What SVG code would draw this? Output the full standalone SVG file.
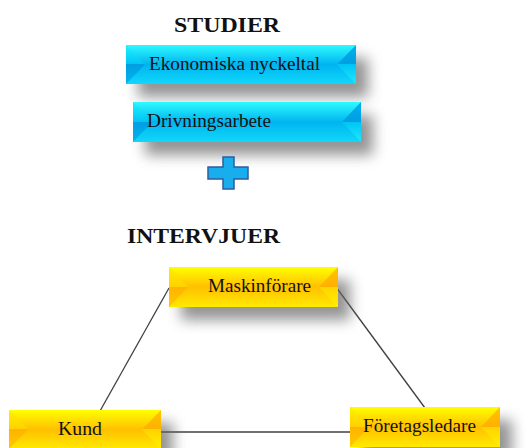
<svg xmlns="http://www.w3.org/2000/svg" width="531" height="448" viewBox="0 0 531 448">
<defs>
<linearGradient id="gc" x1="0" y1="0" x2="0" y2="1">
<stop offset="0" stop-color="#2FFAFF"/><stop offset="0.5" stop-color="#00B4F0"/><stop offset="1" stop-color="#10D8FA"/>
</linearGradient>
<linearGradient id="gcl" x1="0" y1="0" x2="0" y2="1">
<stop offset="0" stop-color="#20F0FF"/><stop offset="0.5" stop-color="#00C4F4"/><stop offset="0.5" stop-color="#009EE2"/><stop offset="1" stop-color="#00B6EE"/>
</linearGradient>
<linearGradient id="gcr" x1="0" y1="0" x2="0" y2="1">
<stop offset="0" stop-color="#00B0EC"/><stop offset="0.5" stop-color="#009EE2"/><stop offset="0.5" stop-color="#00C4F4"/><stop offset="1" stop-color="#20E8FF"/>
</linearGradient>
<linearGradient id="gy" x1="0" y1="0" x2="0" y2="1">
<stop offset="0" stop-color="#FFFF00"/><stop offset="0.5" stop-color="#FFC000"/><stop offset="1" stop-color="#FFEA00"/>
</linearGradient>
<linearGradient id="gyl" x1="0" y1="0" x2="0" y2="1">
<stop offset="0" stop-color="#FFF000"/><stop offset="0.5" stop-color="#FFD000"/><stop offset="0.5" stop-color="#FFB400"/><stop offset="1" stop-color="#FFC800"/>
</linearGradient>
<linearGradient id="gyr" x1="0" y1="0" x2="0" y2="1">
<stop offset="0" stop-color="#FFC400"/><stop offset="0.5" stop-color="#FFB000"/><stop offset="0.5" stop-color="#FFD400"/><stop offset="1" stop-color="#FFF000"/>
</linearGradient>
<filter id="sh" x="-30%" y="-80%" width="160%" height="260%">
<feGaussianBlur stdDeviation="7"/>
</filter>
</defs>
<style>
.sh{fill:#666;opacity:0.7;filter:url(#sh)}
.c{fill:url(#gc)}
.cl{fill:url(#gcl)}
.cr{fill:url(#gcr)}
.y{fill:url(#gy)}
.yl{fill:url(#gyl)}
.yr{fill:url(#gyr)}
.t{font-family:"Liberation Serif",serif;font-size:18.5px;fill:#111}
.h{font-family:"Liberation Serif",serif;font-size:22px;font-weight:bold;fill:#111}
.ln{stroke:#404040;stroke-width:1.3;fill:none}
</style>

<g id="connectors">
<line class="ln" x1="169" y1="288" x2="100" y2="411"/>
<line class="ln" x1="336" y1="287" x2="425" y2="408"/>
<line class="ln" x1="161" y1="432" x2="350" y2="432"/>
</g>

<g id="title-studier"><text class="h" x="174" y="32" textLength="106" lengthAdjust="spacingAndGlyphs">STUDIER</text></g>

<g id="node-ekonomiska">
<rect class="sh" x="138" y="58" width="230" height="39"/>
<rect class="c" x="126" y="45" width="230" height="39"/>
<polygon class="cl" points="126,45 145,64.5 126,84"/>
<polygon class="cr" points="356,45 337,64.5 356,84"/>
<text class="t" x="149" y="70" textLength="171" lengthAdjust="spacingAndGlyphs">Ekonomiska nyckeltal</text>
</g>

<g id="node-drivning">
<rect class="sh" x="145" y="115" width="228" height="40"/>
<rect class="c" x="133" y="102" width="228" height="40"/>
<polygon class="cl" points="133,102 152,122 133,142"/>
<polygon class="cr" points="361,102 342,122 361,142"/>
<text class="t" x="147" y="127" textLength="124" lengthAdjust="spacingAndGlyphs">Drivningsarbete</text>
</g>

<g id="plus">
<polygon points="223,157 234,157 234,167 248,167 248,179 234,179 234,189 223,189 223,179 208,179 208,167 223,167" fill="#18AEEE" stroke="#2E5C9E" stroke-width="1.5"/>
</g>

<g id="title-intervjuer"><text class="h" x="127" y="243" textLength="153" lengthAdjust="spacingAndGlyphs">INTERVJUER</text></g>

<g id="node-maskin">
<rect class="sh" x="181" y="280" width="169" height="40"/>
<rect class="y" x="169" y="267" width="169" height="40"/>
<polygon class="yl" points="169,267 188,287 169,307"/>
<polygon class="yr" points="338,267 319,287 338,307"/>
<text class="t" x="208" y="292" textLength="103" lengthAdjust="spacingAndGlyphs">Maskinförare</text>
</g>

<g id="node-kund">
<rect class="sh" x="21" y="423" width="152" height="39"/>
<rect class="y" x="9" y="410" width="152" height="39"/>
<polygon class="yl" points="9,410 28,429.5 9,449"/>
<polygon class="yr" points="161,410 142,429.5 161,449"/>
<text class="t" x="58" y="435" textLength="44" lengthAdjust="spacingAndGlyphs">Kund</text>
</g>

<g id="node-foretag">
<rect class="sh" x="362" y="420" width="150" height="40"/>
<rect class="y" x="350" y="407" width="150" height="40"/>
<polygon class="yl" points="350,407 369,427 350,447"/>
<polygon class="yr" points="500,407 481,427 500,447"/>
<text class="t" x="363" y="432" textLength="113" lengthAdjust="spacingAndGlyphs">Företagsledare</text>
</g>
</svg>
